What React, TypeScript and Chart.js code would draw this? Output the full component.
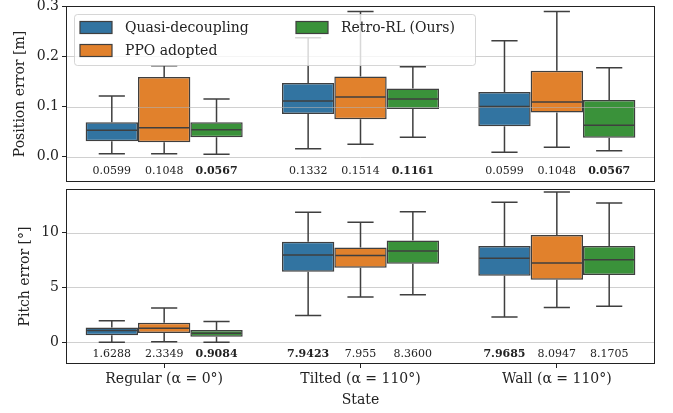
import React, { useEffect, useRef } from 'react';
import { Chart, registerables } from 'chart.js';
Chart.register(...registerables);

const categories = ['Regular (α = 0°)', 'Tilted (α = 110°)', 'Wall (α = 110°)'];
const seriesNames = ['Quasi-decoupling', 'PPO adopted', 'Retro-RL (Ours)'];

// each entry: [whiskerLow, q1, median, q3, whiskerHigh] per category
const posQuasi = [[0.006, 0.031, 0.053, 0.069, 0.121], [0.016, 0.085, 0.111, 0.147, 0.237], [0.009, 0.061, 0.100, 0.129, 0.231]];
const posPPO = [[0.006, 0.029, 0.058, 0.159, 0.181], [0.025, 0.075, 0.119, 0.160, 0.289], [0.019, 0.088, 0.109, 0.171, 0.289]];
const posRetro = [[0.005, 0.039, 0.054, 0.069, 0.115], [0.039, 0.095, 0.115, 0.136, 0.179], [0.012, 0.038, 0.063, 0.113, 0.177]];

const pitchQuasi = [[0.0, 0.64, 1.07, 1.34, 1.96], [2.44, 6.44, 7.96, 9.18, 11.87], [2.29, 6.07, 7.66, 8.78, 12.78]];
const pitchPPO = [[0.03, 0.83, 1.28, 1.77, 3.11], [4.12, 6.80, 7.93, 8.66, 10.95], [3.17, 5.71, 7.23, 9.79, 13.72]];
const pitchRetro = [[0.0, 0.49, 0.82, 1.10, 1.89], [4.34, 7.17, 8.33, 9.30, 11.93], [3.29, 6.13, 7.54, 8.78, 12.72]];

const posTexts = [['0.0599', '0.1332', '0.0599'], ['0.1048', '0.1514', '0.1048'], ['0.0567', '0.1161', '0.0567']];
const posBold = [[false, false, false], [false, false, false], [true, true, true]];
const pitchTexts = [['1.6288', '7.9423', '7.9685'], ['2.3349', '7.955', '8.0947'], ['0.9084', '8.3600', '8.1705']];
const pitchBold = [[false, true, true], [false, false, false], [true, false, false]];

const posTicks = [0, 0.1, 0.2, 0.3];
const pitchTicks = [0, 5, 10];
const posRange = [-0.05, 0.3];
const pitchRange = [-2, 14];
const posTextY = -0.0275;
const pitchTextY = -1.12;

const FONT = "'DejaVu Serif', serif";
const COLORS = ['#3274A1', '#E1812C', '#3A923A'];
const EDGE = '#3F3F3F';
const TEXT = '#222222';

function boxPlugin(stats: number[][][], texts: string[][], bolds: boolean[][], textY: number, gridTicks: number[], withLegend: boolean) {
  return {
    id: 'boxplot',
    afterDatasetsDraw(chart: any) {
      const ctx = chart.ctx;
      const ys = chart.scales.y;
      const area = chart.chartArea;
      ctx.save();
      // grid lines above boxes (matplotlib order)
      ctx.strokeStyle = 'rgba(176,176,176,0.6)';
      ctx.lineWidth = 1;
      gridTicks.forEach((v) => {
        const py = Math.round(ys.getPixelForValue(v)) + 0.5;
        ctx.beginPath();
        ctx.moveTo(area.left, py);
        ctx.lineTo(area.right, py);
        ctx.stroke();
      });
      // whiskers, caps, medians
      ctx.strokeStyle = EDGE;
      ctx.lineWidth = 1.5;
      stats.forEach((series, si) => {
        const meta = chart.getDatasetMeta(si);
        series.forEach((r, ci) => {
          const bar = meta.data[ci];
          const x = bar.x;
          const w = bar.width;
          const [lo, q1, med, q3, hi] = r.map((v) => ys.getPixelForValue(v));
          ctx.beginPath();
          ctx.moveTo(x, q3); ctx.lineTo(x, hi);
          ctx.moveTo(x - w / 4, hi); ctx.lineTo(x + w / 4, hi);
          ctx.moveTo(x, q1); ctx.lineTo(x, lo);
          ctx.moveTo(x - w / 4, lo); ctx.lineTo(x + w / 4, lo);
          ctx.moveTo(x - w / 2 + 1, med); ctx.lineTo(x + w / 2 - 1, med);
          ctx.stroke();
        });
      });
      // annotation numbers
      ctx.fillStyle = TEXT;
      ctx.textAlign = 'center';
      ctx.textBaseline = 'middle';
      texts.forEach((series, si) => {
        const meta = chart.getDatasetMeta(si);
        series.forEach((t, ci) => {
          const bar = meta.data[ci];
          ctx.font = (bolds[si][ci] ? 'bold ' : '') + '11px ' + FONT;
          ctx.fillText(t, bar.x, ys.getPixelForValue(textY));
        });
      });
      // frame
      ctx.strokeStyle = '#222222';
      ctx.lineWidth = 1;
      const l = Math.round(area.left) + 0.5;
      const t = Math.round(area.top) + 0.5;
      const rr = Math.round(area.right) - 0.5;
      const b = Math.round(area.bottom) - 0.5;
      ctx.strokeRect(l, t, rr - l, b - t);
      ctx.restore();
    },
    afterDraw(chart: any) {
      if (!withLegend) return;
      const ctx = chart.ctx;
      ctx.save();
      const lx = 74.5, ly = 14.5, lw = 401, lh = 51, rad = 3;
      ctx.beginPath();
      ctx.moveTo(lx + rad, ly);
      ctx.lineTo(lx + lw - rad, ly);
      ctx.quadraticCurveTo(lx + lw, ly, lx + lw, ly + rad);
      ctx.lineTo(lx + lw, ly + lh - rad);
      ctx.quadraticCurveTo(lx + lw, ly + lh, lx + lw - rad, ly + lh);
      ctx.lineTo(lx + rad, ly + lh);
      ctx.quadraticCurveTo(lx, ly + lh, lx, ly + lh - rad);
      ctx.lineTo(lx, ly + rad);
      ctx.quadraticCurveTo(lx, ly, lx + rad, ly);
      ctx.closePath();
      ctx.fillStyle = 'rgba(255,255,255,0.8)';
      ctx.fill();
      ctx.strokeStyle = 'rgba(204,204,204,0.8)';
      ctx.lineWidth = 1;
      ctx.stroke();
      const items = [
        { sx: 80, sy: 27.5, tx: 125 },
        { sx: 80, sy: 50.5, tx: 125 },
        { sx: 296, sy: 27.5, tx: 341 },
      ];
      ctx.font = '14px ' + FONT;
      ctx.textAlign = 'left';
      ctx.textBaseline = 'middle';
      items.forEach((it, i) => {
        ctx.fillStyle = COLORS[i];
        ctx.fillRect(it.sx, it.sy - 6, 32, 12);
        ctx.strokeStyle = EDGE;
        ctx.lineWidth = 1.2;
        ctx.strokeRect(it.sx, it.sy - 6, 32, 12);
        ctx.fillStyle = TEXT;
        ctx.fillText(seriesNames[i], it.tx, it.sy + 1);
      });
      ctx.restore();
    },
  };
}

function makeConfig(stats: number[][][], texts: string[][], bolds: boolean[][], textY: number, ticks: number[], range: number[], yTitle: string, titlePad: number, bottom: boolean) {
  return {
    type: 'bar',
    data: {
      labels: categories,
      datasets: stats.map((s, i) => ({
        label: seriesNames[i],
        data: s.map((r) => [r[1], r[3]]),
        backgroundColor: COLORS[i],
        borderColor: EDGE,
        borderWidth: 1.5,
        borderSkipped: false,
        categoryPercentage: 0.8,
        barPercentage: 1.0,
      })),
    },
    options: {
      responsive: false,
      animation: false,
      devicePixelRatio: 1,
      layout: { padding: bottom ? { top: 5, right: 18, bottom: 0, left: 0 } : { top: 6, right: 18, bottom: 2, left: 0 } },
      plugins: { legend: { display: false }, tooltip: { enabled: false } },
      scales: {
        x: {
          display: bottom,
          offset: true,
          grid: { offset: false, drawOnChartArea: false, drawTicks: true, tickLength: 4, tickColor: '#222222' },
          border: { display: false },
          ticks: { color: TEXT, font: { family: FONT, size: 14 }, maxRotation: 0, autoSkip: false, padding: 3 },
          title: { display: bottom, text: 'State', color: TEXT, font: { family: FONT, size: 14 }, padding: { top: 0, bottom: 4.6 } },
          afterFit: (scale: any) => {
            if (bottom) scale.height = 49;
            scale.paddingLeft = 0; scale.paddingRight = 0; scale.paddingTop = 0; scale.paddingBottom = 0;
          },
        },
        y: {
          min: range[0],
          max: range[1],
          afterBuildTicks: (scale: any) => { scale.ticks = ticks.map((v) => ({ value: v })); },
          grid: { drawOnChartArea: false, drawTicks: true, tickLength: 4, tickColor: '#222222' },
          border: { display: false },
          ticks: { color: TEXT, font: { family: FONT, size: 14 }, padding: 3, callback: (v: number) => (bottom ? String(v) : v.toFixed(1)) },
          title: { display: true, text: yTitle, color: TEXT, font: { family: FONT, size: 14 }, padding: { top: titlePad, bottom: 0 } },
          afterFit: (scale: any) => {
            scale.width = 66;
            scale.paddingTop = 0; scale.paddingBottom = 0; scale.paddingLeft = 0; scale.paddingRight = 0;
          },
        },
      },
    },
    plugins: [boxPlugin(stats, texts, bolds, textY, ticks, !bottom)],
  } as any;
}

export default function App() {
  const topRef = useRef<HTMLCanvasElement>(null);
  const botRef = useRef<HTMLCanvasElement>(null);
  useEffect(() => {
    const c1 = new Chart(topRef.current as HTMLCanvasElement, makeConfig([posQuasi, posPPO, posRetro], posTexts, posBold, posTextY, posTicks, posRange, 'Position error [m]', 12, false));
    const c2 = new Chart(botRef.current as HTMLCanvasElement, makeConfig([pitchQuasi, pitchPPO, pitchRetro], pitchTexts, pitchBold, pitchTextY, pitchTicks, pitchRange, 'Pitch error [°]', 17, true));
    return () => { c1.destroy(); c2.destroy(); };
  }, []);
  return (
    <div style={{ position: 'fixed', left: 0, top: 0, width: 673, height: 413, background: '#fff' }}>
      <canvas ref={topRef} width={673} height={184} style={{ position: 'absolute', left: 0, top: 0, width: 673, height: 184 }} />
      <canvas ref={botRef} width={673} height={229} style={{ position: 'absolute', left: 0, top: 184, width: 673, height: 229 }} />
    </div>
  );
}
